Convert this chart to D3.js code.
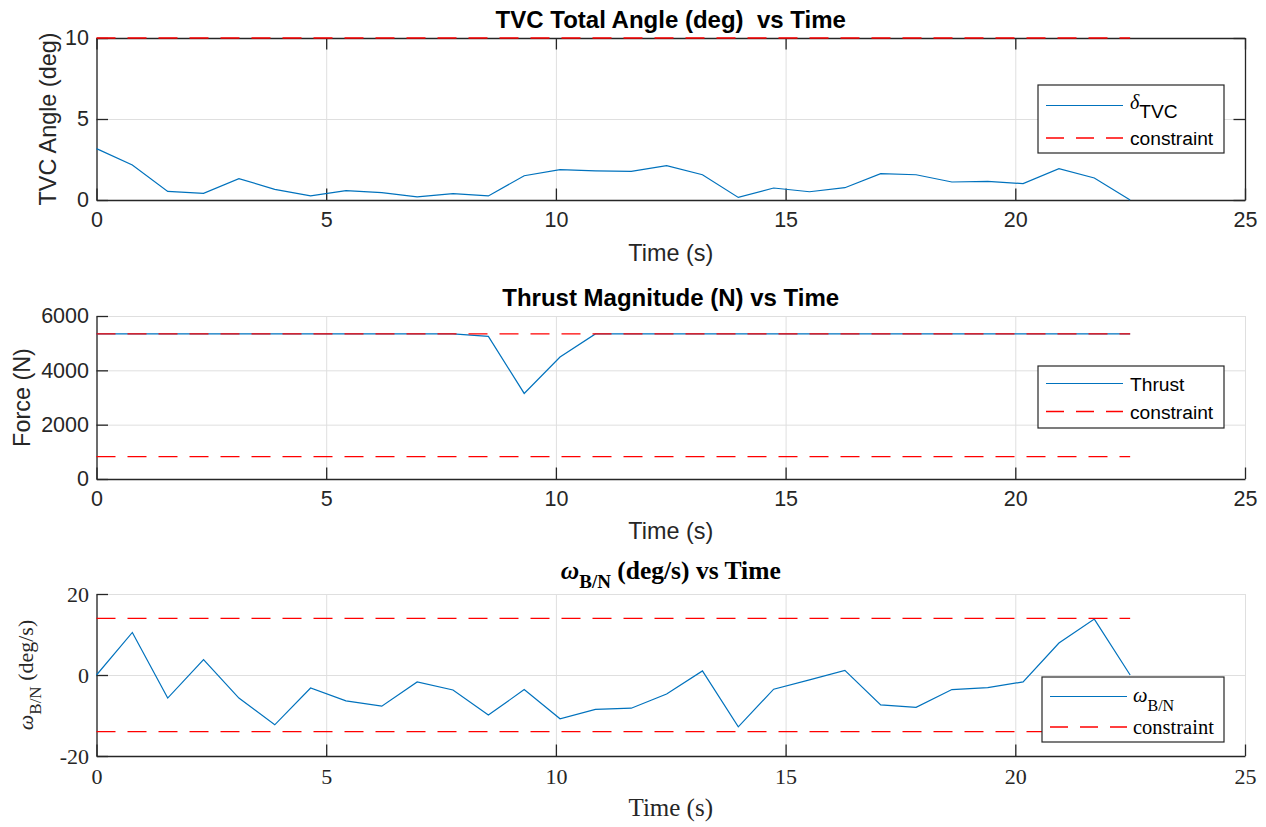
<!DOCTYPE html>
<html>
<head>
<meta charset="utf-8">
<script src="https://cdn.jsdelivr.net/npm/d3@7"></script>
<style>
  body { margin: 0; background: #fff; }
  text { white-space: pre; }
</style>
</head>
<body>
<svg id="chart" width="1266" height="827"></svg>
<script>
// sample times (s)
var time_s = [0, 0.78, 1.55, 2.33, 3.10, 3.88, 4.66, 5.43, 6.21, 6.98,
              7.76, 8.53, 9.31, 10.09, 10.86, 11.64, 12.41, 13.19, 13.97, 14.74,
              15.52, 16.29, 17.07, 17.84, 18.62, 19.40, 20.17, 20.95, 21.72, 22.50];
// TVC total angle (deg)
var tvc_deg = [3.17, 2.16, 0.53, 0.41, 1.32, 0.66, 0.25, 0.58, 0.45, 0.19,
               0.39, 0.25, 1.50, 1.87, 1.80, 1.77, 2.12, 1.56, 0.16, 0.74,
               0.51, 0.76, 1.63, 1.56, 1.11, 1.15, 1.01, 1.93, 1.36, 0];
// thrust magnitude (N)
var thrust_N = [5340, 5340, 5340, 5340, 5340, 5340, 5340, 5340, 5340, 5340,
                5340, 5250, 3150, 4490, 5340, 5340, 5340, 5340, 5340, 5340,
                5340, 5340, 5340, 5340, 5340, 5340, 5340, 5340, 5340, 5340];
// body rate (deg/s)
var omega_dps = [0, 10.5, -5.7, 3.8, -5.7, -12.3, -3.2, -6.4, -7.7, -1.7,
                 -3.7, -9.9, -3.6, -10.8, -8.5, -8.2, -4.7, 1.0, -12.8, -3.5,
                 -1.2, 1.15, -7.4, -8.0, -3.6, -3.1, -1.7, 7.9, 13.8, 0];
// constraint levels
var tvc_limits = [10];
var thrust_limits = [5340, 822];
var omega_limits = [14, -14];
var limit_span = [0, 22.5];
// ticks
var x_ticks = [0, 5, 10, 15, 20, 25];
var tvc_ticks = [0, 5, 10];
var thrust_ticks = [0, 2000, 4000, 6000];
var omega_ticks = [-20, 0, 20];

var svg = d3.select("#chart");
var SANS = "'Liberation Sans', Arial, Helvetica, sans-serif";
var SERIF = "'Liberation Serif', 'Times New Roman', serif";
var AXIS = "#262626", GRID = "#dfdfdf", BLUE = "#0072BD", RED = "#FF0000";
var left = 96.5, right = 1245, tick = 11.5;

// text with optional italic / subscript pieces
function rich(sel, parts, subShift) {
    var down = false;
    parts.forEach(function(p) {
        var ts = sel.append("tspan").text(p.t);
        if (p.italic) ts.attr("font-style", "italic");
        if (p.family) ts.attr("font-family", p.family);
        if (p.size) ts.attr("font-size", p.size);
        if (p.sub && !down) { ts.attr("dy", subShift); down = true; }
        else if (!p.sub && down) { ts.attr("dy", -subShift); down = false; }
    });
}

function draw_panel(p) {
    var font = p.serif ? SERIF : SANS;
    var x = d3.scaleLinear().domain([0, 25]).range([left, right]);
    var y = d3.scaleLinear().domain(p.ydom).range([p.bottom, p.top]);
    var h = p.bottom - p.top;
    var g = svg.append("g");

    // grid
    g.append("g")
        .attr("transform", `translate(0,${p.bottom})`)
        .call(d3.axisBottom(x).tickValues(x_ticks).tickSize(-h).tickFormat(""))
        .call(s => s.select(".domain").remove())
        .selectAll("line").attr("stroke", GRID).attr("stroke-width", 1);
    g.append("g")
        .attr("transform", `translate(${left},0)`)
        .call(d3.axisLeft(y).tickValues(p.yticks).tickSize(-(right - left)).tickFormat(""))
        .call(s => s.select(".domain").remove())
        .selectAll("line").attr("stroke", GRID).attr("stroke-width", 1);

    // axes
    var xa = g.append("g")
        .attr("transform", `translate(0,${p.bottom})`)
        .call(d3.axisBottom(x).tickValues(x_ticks).tickSize(-tick).tickSizeOuter(0)
              .tickPadding(12).tickFormat(d => String(d)));
    var ya = g.append("g")
        .attr("transform", `translate(${left},0)`)
        .call(d3.axisLeft(y).tickValues(p.yticks).tickSize(-tick).tickSizeOuter(0)
              .tickPadding(7.5).tickFormat(d => String(d)));
    [xa, ya].forEach(function(a) {
        a.select(".domain").attr("stroke", AXIS).attr("stroke-width", 1.3);
        a.selectAll("line").attr("stroke", AXIS).attr("stroke-width", 1.3);
        a.selectAll("text").attr("fill", AXIS).attr("font-family", font)
            .attr("font-size", p.tickSize);
    });
    if (p.box) {
        var ta = g.append("g").attr("transform", `translate(0,${p.top})`)
            .call(d3.axisTop(x).tickValues(x_ticks).tickSize(-tick).tickSizeOuter(0).tickFormat(""));
        var ra = g.append("g").attr("transform", `translate(${right},0)`)
            .call(d3.axisRight(y).tickValues(p.yticks).tickSize(-tick).tickSizeOuter(0).tickFormat(""));
        [ta, ra].forEach(function(a) {
            a.select(".domain").attr("stroke", AXIS).attr("stroke-width", 1.3);
            a.selectAll("line").attr("stroke", AXIS).attr("stroke-width", 1.3);
        });
    }

    // data line
    var line = d3.line().x((d, i) => x(time_s[i])).y(d => y(d));
    g.append("path").datum(p.values)
        .attr("d", line).attr("fill", "none")
        .attr("stroke", BLUE).attr("stroke-width", 1.2);

    // constraint lines
    p.limits.forEach(function(v) {
        g.append("path").datum(limit_span)
            .attr("d", d3.line().x(d => x(d)).y(() => y(v)))
            .attr("fill", "none").attr("stroke", RED)
            .attr("stroke-width", 1.3).attr("stroke-dasharray", "19,12");
    });

    // title
    var tt = g.append("text")
        .attr("x", (left + right) / 2).attr("y", p.titleY)
        .attr("text-anchor", "middle").attr("font-family", font)
        .attr("font-weight", "bold").attr("font-size", p.titleSize).attr("fill", "#000");
    rich(tt, p.title, 9);

    // x label
    g.append("text")
        .attr("x", (left + right) / 2).attr("y", p.xlabelY)
        .attr("text-anchor", "middle").attr("font-family", font)
        .attr("font-size", p.labelSize).attr("fill", AXIS)
        .text("Time (s)");

    // y label
    var yl = g.append("text")
        .attr("transform", `translate(${p.ylabelX},${(p.top + p.bottom) / 2}) rotate(-90)`)
        .attr("text-anchor", "middle").attr("font-family", font)
        .attr("font-size", p.ylabelSize || p.labelSize).attr("fill", AXIS);
    rich(yl, p.ylabel, 8);

    // legend
    var lg = p.legend;
    g.append("rect")
        .attr("x", lg.x0).attr("y", lg.y0)
        .attr("width", lg.x1 - lg.x0).attr("height", lg.y1 - lg.y0)
        .attr("fill", "#fff").attr("stroke", AXIS).attr("stroke-width", 1.2);
    lg.rows.forEach(function(r, i) {
        g.append("line")
            .attr("x1", lg.lx0).attr("x2", lg.lx1)
            .attr("y1", lg.ry[i]).attr("y2", lg.ry[i])
            .attr("stroke", i === 0 ? BLUE : RED)
            .attr("stroke-width", i === 0 ? 1.2 : 1.3)
            .attr("stroke-dasharray", i === 0 ? null : "18,12");
        var t = g.append("text")
            .attr("x", lg.tx).attr("y", lg.ry[i] + lg.base[i])
            .attr("font-family", font).attr("font-size", lg.size).attr("fill", "#000");
        rich(t, r, 9);
    });
}

draw_panel({
    top: 38, bottom: 200, ydom: [0, 10], yticks: tvc_ticks, box: true, serif: false,
    values: tvc_deg, limits: tvc_limits,
    tickSize: 21.5, labelSize: 23.4, titleSize: 24,
    titleY: 28, xlabelY: 261, ylabelX: 56,
    title: [{t: "TVC Total Angle (deg)  vs Time"}],
    ylabel: [{t: "TVC Angle (deg)"}],
    legend: {x0: 1038, x1: 1224, y0: 85, y1: 153, lx0: 1046, lx1: 1123, tx: 1130,
             ry: [105.5, 138], base: [3, 7], size: 19.2,
             rows: [[{t: "δ", italic: true, family: SERIF, size: 20}, {t: "TVC", sub: true}],
                    [{t: "constraint"}]]}
});

draw_panel({
    top: 316, bottom: 479, ydom: [0, 6000], yticks: thrust_ticks, box: false, serif: false,
    values: thrust_N, limits: thrust_limits,
    tickSize: 21.5, labelSize: 23.4, titleSize: 24,
    titleY: 306, xlabelY: 539, ylabelX: 30,
    title: [{t: "Thrust Magnitude (N) vs Time"}],
    ylabel: [{t: "Force (N)"}],
    legend: {x0: 1038, x1: 1224, y0: 366, y1: 428, lx0: 1046, lx1: 1123, tx: 1130,
             ry: [383.5, 411.5], base: [7, 7], size: 19.2,
             rows: [[{t: "Thrust"}], [{t: "constraint"}]]}
});

draw_panel({
    top: 594, bottom: 756, ydom: [-20, 20], yticks: omega_ticks, box: false, serif: true,
    values: omega_dps, limits: omega_limits,
    tickSize: 22, labelSize: 25, ylabelSize: 22, titleSize: 25.5,
    titleY: 579, xlabelY: 816, ylabelX: 33,
    title: [{t: "ω", italic: true}, {t: "B/N", sub: true, size: 19}, {t: " (deg/s) vs Time"}],
    ylabel: [{t: "ω", italic: true}, {t: "B/N", sub: true, size: 17}, {t: " (deg/s)"}],
    legend: {x0: 1042, x1: 1224, y0: 677, y1: 742, lx0: 1050, lx1: 1127, tx: 1133,
             ry: [696.5, 727], base: [5, 6.5], size: 20.5,
             rows: [[{t: "ω", italic: true}, {t: "B/N", sub: true, size: 16}],
                    [{t: "constraint"}]]}
});
</script>
</body>
</html>
